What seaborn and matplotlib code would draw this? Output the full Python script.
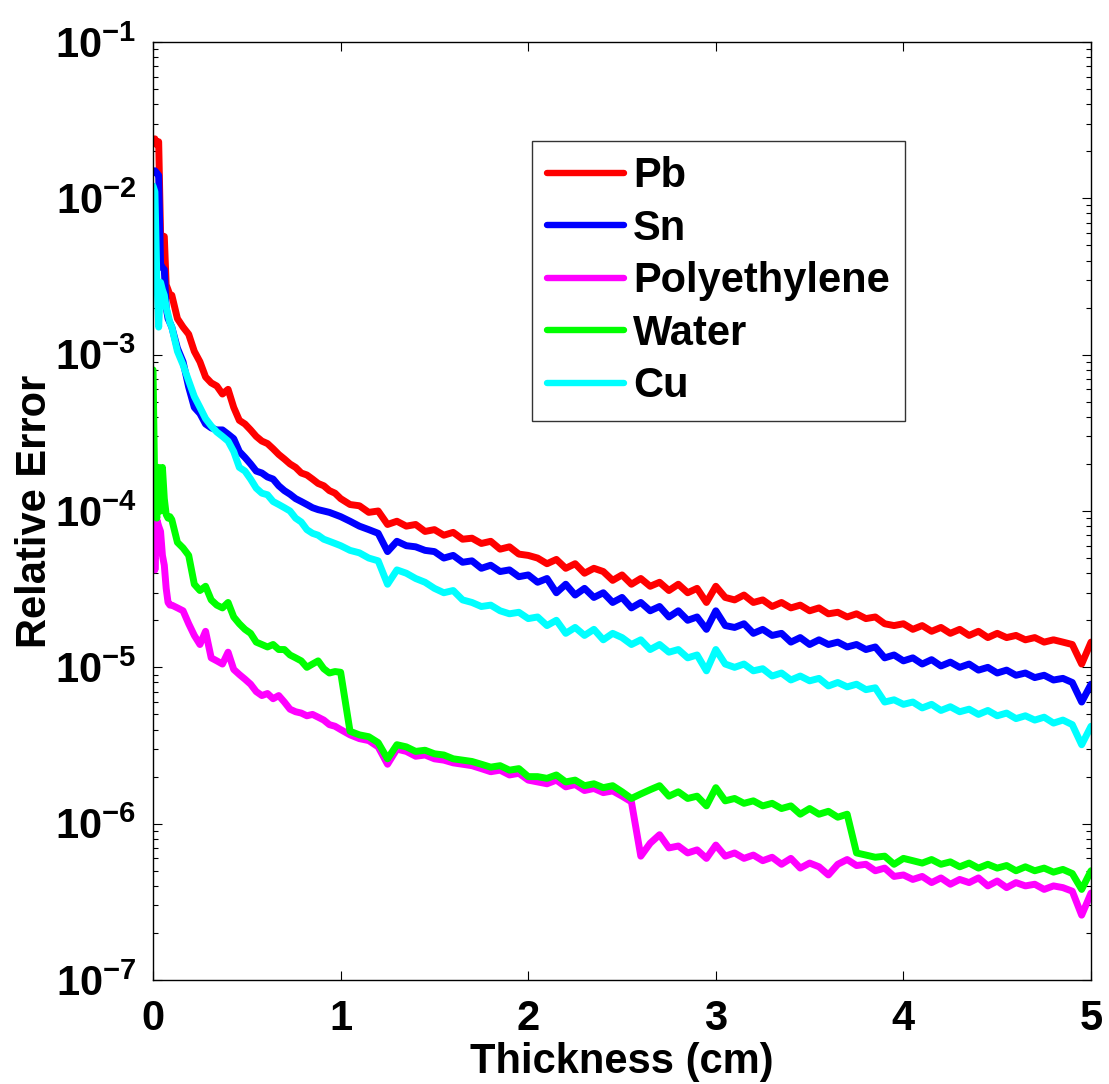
import numpy as np
import pandas as pd
import matplotlib
matplotlib.use("Agg")
import matplotlib.pyplot as plt
import seaborn as sns

# sample positions (cm): dense near the surface, coarser further in
thickness = np.concatenate([
    np.linspace(0.0, 0.09, 10),
    np.linspace(0.10, 0.97, 30),
    np.linspace(1.0, 5.0, 81),
])

pb = [
    2.3e-2, 2.4e-2, 2.2e-2, 2.3e-2, 6.0e-3, 5.6e-3, 5.7e-3, 2.8e-3, 2.6e-3, 2.4e-3,
    2.4e-3, 1.7e-3, 1.5e-3, 1.35e-3, 1.05e-3, 9.0e-4, 7.2e-4, 6.6e-4, 6.3e-4, 5.6e-4,
    6.0e-4, 4.6e-4, 3.8e-4, 3.6e-4, 3.3e-4, 3.0e-4, 2.8e-4, 2.7e-4, 2.5e-4, 2.3e-4,
    2.15e-4, 2.0e-4, 1.9e-4, 1.75e-4, 1.7e-4, 1.6e-4, 1.5e-4, 1.45e-4, 1.35e-4, 1.3e-4,
    1.20e-4, 1.10e-4, 1.08e-4, 9.8e-5, 1.00e-4, 8.2e-5, 8.6e-5, 8.0e-5, 8.2e-5, 7.4e-5,
    7.6e-5, 7.0e-5, 7.3e-5, 6.6e-5, 6.7e-5, 6.2e-5, 6.4e-5, 5.7e-5, 5.9e-5, 5.3e-5,
    5.2e-5, 5.0e-5, 4.6e-5, 4.9e-5, 4.3e-5, 4.6e-5, 4.0e-5, 4.3e-5, 4.1e-5, 3.6e-5,
    3.9e-5, 3.4e-5, 3.7e-5, 3.3e-5, 3.5e-5, 3.1e-5, 3.4e-5, 3.0e-5, 3.2e-5, 2.6e-5,
    3.3e-5, 2.8e-5, 2.7e-5, 2.9e-5, 2.6e-5, 2.7e-5, 2.45e-5, 2.6e-5, 2.4e-5, 2.5e-5,
    2.3e-5, 2.4e-5, 2.2e-5, 2.25e-5, 2.1e-5, 2.2e-5, 2.05e-5, 2.1e-5, 1.9e-5, 1.85e-5,
    1.9e-5, 1.75e-5, 1.85e-5, 1.7e-5, 1.8e-5, 1.65e-5, 1.75e-5, 1.6e-5, 1.7e-5, 1.55e-5,
    1.65e-5, 1.55e-5, 1.6e-5, 1.5e-5, 1.55e-5, 1.45e-5, 1.5e-5, 1.45e-5, 1.4e-5, 1.05e-5,
    1.45e-5,
]

sn = [
    1.45e-2, 1.5e-2, 1.45e-2, 1.4e-2, 3.8e-3, 3.6e-3, 3.5e-3, 2.0e-3, 1.7e-3, 1.6e-3,
    1.5e-3, 1.1e-3, 9.0e-4, 6.2e-4, 4.6e-4, 4.2e-4, 3.6e-4, 3.4e-4, 3.3e-4, 3.3e-4,
    3.1e-4, 2.9e-4, 2.4e-4, 2.2e-4, 2.0e-4, 1.8e-4, 1.75e-4, 1.65e-4, 1.6e-4, 1.45e-4,
    1.35e-4, 1.28e-4, 1.2e-4, 1.15e-4, 1.1e-4, 1.05e-4, 1.02e-4, 1.0e-4, 9.8e-5, 9.5e-5,
    9.2e-5, 8.6e-5, 8.0e-5, 7.6e-5, 7.2e-5, 5.5e-5, 6.4e-5, 6.0e-5, 5.9e-5, 5.6e-5,
    5.5e-5, 5.0e-5, 5.2e-5, 4.7e-5, 4.8e-5, 4.3e-5, 4.5e-5, 4.1e-5, 4.2e-5, 3.8e-5,
    3.9e-5, 3.5e-5, 3.7e-5, 3.0e-5, 3.4e-5, 2.9e-5, 3.2e-5, 2.8e-5, 3.0e-5, 2.6e-5,
    2.8e-5, 2.4e-5, 2.6e-5, 2.3e-5, 2.45e-5, 2.1e-5, 2.3e-5, 2.0e-5, 2.1e-5, 1.75e-5,
    2.3e-5, 1.85e-5, 1.8e-5, 1.9e-5, 1.65e-5, 1.75e-5, 1.6e-5, 1.65e-5, 1.45e-5, 1.55e-5,
    1.4e-5, 1.5e-5, 1.4e-5, 1.45e-5, 1.35e-5, 1.4e-5, 1.3e-5, 1.35e-5, 1.15e-5, 1.2e-5,
    1.1e-5, 1.15e-5, 1.05e-5, 1.12e-5, 1.02e-5, 1.08e-5, 1.0e-5, 1.05e-5, 9.6e-6, 1.0e-5,
    9.2e-6, 9.6e-6, 8.9e-6, 9.2e-6, 8.6e-6, 8.9e-6, 8.3e-6, 8.5e-6, 8.0e-6, 6.0e-6,
    7.8e-6,
]

polyethylene = [
    1.2e-4, 4.2e-5, 8.8e-5, 8.0e-5, 7.4e-5, 5.2e-5, 4.5e-5, 3.2e-5, 2.6e-5, 2.5e-5,
    2.5e-5, 2.4e-5, 2.3e-5, 1.9e-5, 1.6e-5, 1.4e-5, 1.7e-5, 1.15e-5, 1.1e-5, 1.05e-5,
    1.25e-5, 9.7e-6, 9.0e-6, 8.4e-6, 7.8e-6, 7.0e-6, 6.6e-6, 6.8e-6, 6.3e-6, 6.6e-6,
    6.0e-6, 5.4e-6, 5.2e-6, 5.1e-6, 4.9e-6, 5.0e-6, 4.8e-6, 4.6e-6, 4.3e-6, 4.2e-6,
    4.0e-6, 3.7e-6, 3.5e-6, 3.4e-6, 3.1e-6, 2.4e-6, 3.0e-6, 2.9e-6, 2.7e-6, 2.75e-6,
    2.6e-6, 2.55e-6, 2.45e-6, 2.4e-6, 2.35e-6, 2.25e-6, 2.15e-6, 2.2e-6, 2.05e-6, 2.1e-6,
    1.9e-6, 1.85e-6, 1.8e-6, 1.9e-6, 1.72e-6, 1.78e-6, 1.63e-6, 1.68e-6, 1.58e-6, 1.62e-6,
    1.5e-6, 1.38e-6, 6.2e-7, 7.5e-7, 8.5e-7, 7.0e-7, 7.2e-7, 6.5e-7, 6.8e-7, 6.0e-7,
    7.3e-7, 6.2e-7, 6.5e-7, 6.0e-7, 6.3e-7, 5.8e-7, 6.1e-7, 5.5e-7, 6.0e-7, 5.2e-7,
    5.6e-7, 5.3e-7, 4.7e-7, 5.5e-7, 5.9e-7, 5.4e-7, 5.5e-7, 5.0e-7, 5.2e-7, 4.6e-7,
    4.7e-7, 4.4e-7, 4.6e-7, 4.2e-7, 4.5e-7, 4.1e-7, 4.4e-7, 4.2e-7, 4.5e-7, 4.0e-7,
    4.3e-7, 3.9e-7, 4.2e-7, 4.0e-7, 4.1e-7, 3.8e-7, 4.0e-7, 3.9e-7, 3.7e-7, 2.6e-7,
    3.6e-7,
]

water = [
    8.0e-4, 1.2e-4, 9.0e-5, 1.9e-4, 1.0e-4, 1.9e-4, 1.2e-4, 9.5e-5, 9.0e-5, 9.2e-5,
    8.8e-5, 6.3e-5, 5.8e-5, 5.2e-5, 3.4e-5, 3.1e-5, 3.3e-5, 2.7e-5, 2.5e-5, 2.4e-5,
    2.6e-5, 2.1e-5, 1.9e-5, 1.75e-5, 1.65e-5, 1.45e-5, 1.4e-5, 1.35e-5, 1.4e-5, 1.3e-5,
    1.3e-5, 1.2e-5, 1.15e-5, 1.1e-5, 1.0e-5, 1.05e-5, 1.1e-5, 9.8e-6, 9.2e-6, 9.4e-6,
    9.3e-6, 3.9e-6, 3.7e-6, 3.6e-6, 3.3e-6, 2.6e-6, 3.2e-6, 3.1e-6, 2.9e-6, 2.95e-6,
    2.8e-6, 2.75e-6, 2.6e-6, 2.55e-6, 2.5e-6, 2.4e-6, 2.3e-6, 2.35e-6, 2.2e-6, 2.25e-6,
    2.0e-6, 2.0e-6, 1.95e-6, 2.05e-6, 1.85e-6, 1.9e-6, 1.75e-6, 1.8e-6, 1.7e-6, 1.75e-6,
    1.6e-6, 1.45e-6, 1.55e-6, 1.65e-6, 1.75e-6, 1.5e-6, 1.6e-6, 1.45e-6, 1.5e-6, 1.3e-6,
    1.7e-6, 1.4e-6, 1.45e-6, 1.35e-6, 1.4e-6, 1.3e-6, 1.35e-6, 1.25e-6, 1.3e-6, 1.15e-6,
    1.25e-6, 1.15e-6, 1.2e-6, 1.1e-6, 1.15e-6, 6.5e-7, 6.3e-7, 6.1e-7, 6.2e-7, 5.5e-7,
    6.0e-7, 5.8e-7, 5.6e-7, 5.9e-7, 5.5e-7, 5.7e-7, 5.3e-7, 5.6e-7, 5.2e-7, 5.5e-7,
    5.2e-7, 5.4e-7, 5.0e-7, 5.3e-7, 5.0e-7, 5.2e-7, 4.9e-7, 5.1e-7, 4.8e-7, 3.8e-7,
    5.0e-7,
]

cu = [
    1.2e-2, 1.1e-2, 3.2e-3, 1.5e-3, 2.9e-3, 2.6e-3, 2.4e-3, 2.0e-3, 1.8e-3, 1.6e-3,
    1.5e-3, 1.05e-3, 8.6e-4, 6.8e-4, 5.4e-4, 4.6e-4, 3.9e-4, 3.5e-4, 3.2e-4, 3.0e-4,
    2.8e-4, 2.4e-4, 1.9e-4, 1.8e-4, 1.6e-4, 1.4e-4, 1.3e-4, 1.27e-4, 1.15e-4, 1.1e-4,
    1.05e-4, 1.0e-4, 9.0e-5, 8.5e-5, 7.6e-5, 7.2e-5, 7.0e-5, 6.6e-5, 6.4e-5, 6.2e-5,
    6.0e-5, 5.6e-5, 5.4e-5, 5.0e-5, 4.8e-5, 3.4e-5, 4.2e-5, 4.0e-5, 3.7e-5, 3.5e-5,
    3.2e-5, 3.0e-5, 3.1e-5, 2.7e-5, 2.6e-5, 2.45e-5, 2.5e-5, 2.3e-5, 2.2e-5, 2.25e-5,
    2.05e-5, 2.1e-5, 1.85e-5, 2.0e-5, 1.65e-5, 1.8e-5, 1.6e-5, 1.75e-5, 1.5e-5, 1.65e-5,
    1.55e-5, 1.4e-5, 1.5e-5, 1.3e-5, 1.4e-5, 1.25e-5, 1.3e-5, 1.15e-5, 1.2e-5, 9.5e-6,
    1.3e-5, 1.05e-5, 1.0e-5, 1.05e-5, 9.5e-6, 9.8e-6, 8.8e-6, 9.2e-6, 8.3e-6, 8.8e-6,
    8.2e-6, 8.5e-6, 7.6e-6, 8.0e-6, 7.5e-6, 7.8e-6, 7.2e-6, 7.4e-6, 6.0e-6, 6.2e-6,
    5.8e-6, 6.0e-6, 5.5e-6, 5.8e-6, 5.3e-6, 5.6e-6, 5.2e-6, 5.4e-6, 5.0e-6, 5.3e-6,
    4.9e-6, 5.1e-6, 4.7e-6, 4.9e-6, 4.6e-6, 4.8e-6, 4.4e-6, 4.6e-6, 4.3e-6, 3.2e-6,
    4.2e-6,
]

materials = ["Pb", "Sn", "Polyethylene", "Water", "Cu"]
colors = ["#ff0000", "#0000ff", "#ff00ff", "#00ff00", "#00ffff"]
y_ticks = [1e-7, 1e-6, 1e-5, 1e-4, 1e-3, 1e-2, 1e-1]
x_ticks = [0, 1, 2, 3, 4, 5]

series = dict(zip(materials, [pb, sn, polyethylene, water, cu]))
data = pd.concat(
    [pd.DataFrame({"Thickness": thickness, "Error": v, "Material": k})
     for k, v in series.items()],
    ignore_index=True,
)

sns.set_style("ticks")
plt.rcParams["font.family"] = ["Liberation Sans", "DejaVu Sans"]
plt.rcParams["font.weight"] = "bold"
plt.rcParams["mathtext.fontset"] = "custom"
plt.rcParams["mathtext.bf"] = "Liberation Sans:bold"
plt.rcParams["mathtext.rm"] = "Liberation Sans:bold"
for key in ["text.color", "axes.labelcolor", "xtick.color", "ytick.color",
            "axes.edgecolor"]:
    plt.rcParams[key] = "black"

fig = plt.figure(figsize=(11.09, 10.84), dpi=100)
ax = fig.add_axes([0.138, 0.0959, 0.8458, 0.8654])

sns.lineplot(
    data=data,
    x="Thickness",
    y="Error",
    hue="Material",
    hue_order=materials,
    palette=colors,
    estimator=None,
    sort=False,
    linewidth=5,
    ax=ax,
)

ax.set_yscale("log")
ax.set_xlim(0, 5)
ax.set_ylim(1e-7, 1e-1)
ax.set_xticks(x_ticks)
ax.set_xticklabels([str(t) for t in x_ticks], fontsize=30, fontweight="bold")
ax.set_yticks(y_ticks)
ax.set_yticklabels([r"$\mathbf{10^{%d}}$" % int(np.log10(t)) for t in y_ticks],
                   fontsize=30)
ax.tick_params(which="both", direction="in", top=True, right=True, width=0.8,
               color="black")
ax.tick_params(which="major", length=6.5)
ax.tick_params(axis="y", which="major", pad=12)
ax.tick_params(axis="x", which="major", pad=14)
ax.tick_params(which="minor", length=3.6)
ax.tick_params(axis="x", which="minor", bottom=False, top=False)
for s in ax.spines.values():
    s.set_linewidth(1.0)
    s.set_color("black")

ax.set_xlabel("Thickness (cm)", fontsize=30, fontweight="bold", labelpad=2)
ax.set_ylabel("Relative Error", fontsize=30, fontweight="bold", labelpad=0)

leg = ax.legend(
    loc="upper left",
    bbox_to_anchor=(0.404, 0.894),
    borderaxespad=0,
    fontsize=30,
    frameon=True,
    fancybox=False,
    edgecolor="black",
    handlelength=1.85,
    handletextpad=0.22,
    labelspacing=0.3,
    borderpad=0.36,
    title=None,
)
leg.get_frame().set_linewidth(1.0)
for line in leg.get_lines():
    line.set_linewidth(4.6)
for t in leg.get_texts():
    t.set_fontweight("bold")

fig.savefig("out.png", dpi=100)
